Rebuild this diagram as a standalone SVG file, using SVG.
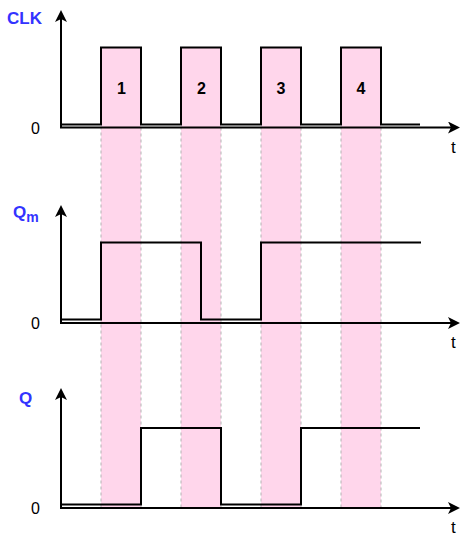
<svg xmlns="http://www.w3.org/2000/svg" width="472" height="538" viewBox="0 0 472 538">
<defs>
<style>
.pink{fill:#FFD6EB;stroke:#B3B3B3;stroke-width:1;stroke-dasharray:3 3}
.sig{fill:none;stroke:#000;stroke-width:2}
.axis{fill:none;stroke:#000;stroke-width:2;marker-end:url(#arr)}
.lbl{font-family:"Liberation Sans",Arial,sans-serif;font-weight:bold;fill:#3333FF;font-size:17px}
.num{font-family:"Liberation Sans",Arial,sans-serif;font-weight:bold;fill:#000;font-size:16px;text-anchor:middle}
.zero{font-family:"Liberation Sans",Arial,sans-serif;fill:#000;font-size:16px}
.t{font-family:"Liberation Sans",Arial,sans-serif;fill:#000;font-size:17px}
</style>
<marker id="arr" markerUnits="userSpaceOnUse" markerWidth="12" markerHeight="12" refX="3" refY="6" orient="auto">
<path d="M0,0 L12,6 L0,12 L3,6 Z" fill="#000"/>
</marker>
</defs>
<rect width="472" height="538" fill="#fff"/>
<g id="clock-windows">
<rect class="pink" x="101" y="47.5" width="40" height="460"/>
<rect class="pink" x="181" y="47.5" width="40" height="460"/>
<rect class="pink" x="261" y="47.5" width="40" height="460"/>
<rect class="pink" x="341" y="47.5" width="40" height="460"/>
</g>
<g id="connectors">
<line class="axis" x1="61" y1="127.5" x2="61" y2="19"/>
<line class="axis" x1="60" y1="127.5" x2="451" y2="127.5"/>
<line class="axis" x1="61" y1="323" x2="61" y2="214"/>
<line class="axis" x1="60" y1="323" x2="451" y2="323"/>
<line class="axis" x1="61" y1="508" x2="61" y2="397"/>
<line class="axis" x1="60" y1="508" x2="451" y2="508"/>
</g>
<g id="clk">
<path class="sig" d="M61,124.5 H101 V47.5 H141 V124.5 H181 V47.5 H221 V124.5 H261 V47.5 H301 V124.5 H341 V47.5 H381 V124.5 H420"/>
<text class="lbl" x="7" y="24">CLK</text>
<text class="num" x="121.5" y="94">1</text>
<text class="num" x="201.5" y="94">2</text>
<text class="num" x="281" y="94">3</text>
<text class="num" x="361" y="94">4</text>
<text class="zero" x="31" y="133.5">0</text>
<text class="t" x="451" y="153">t</text>
</g>
<g id="qm">
<path class="sig" d="M61,319.5 H101 V242.5 H201 V319.5 H261 V242.5 H421"/>
<text class="lbl" x="13" y="218">Q<tspan font-size="14" dy="4">m</tspan></text>
<text class="zero" x="31" y="328.5">0</text>
<text class="t" x="451" y="348">t</text>
</g>
<g id="q">
<path class="sig" d="M61,504.5 H141 V428 H221 V504.5 H301 V428 H420"/>
<text class="lbl" x="19" y="404">Q</text>
<text class="zero" x="31" y="513.5">0</text>
<text class="t" x="451" y="533">t</text>
</g>
</svg>
